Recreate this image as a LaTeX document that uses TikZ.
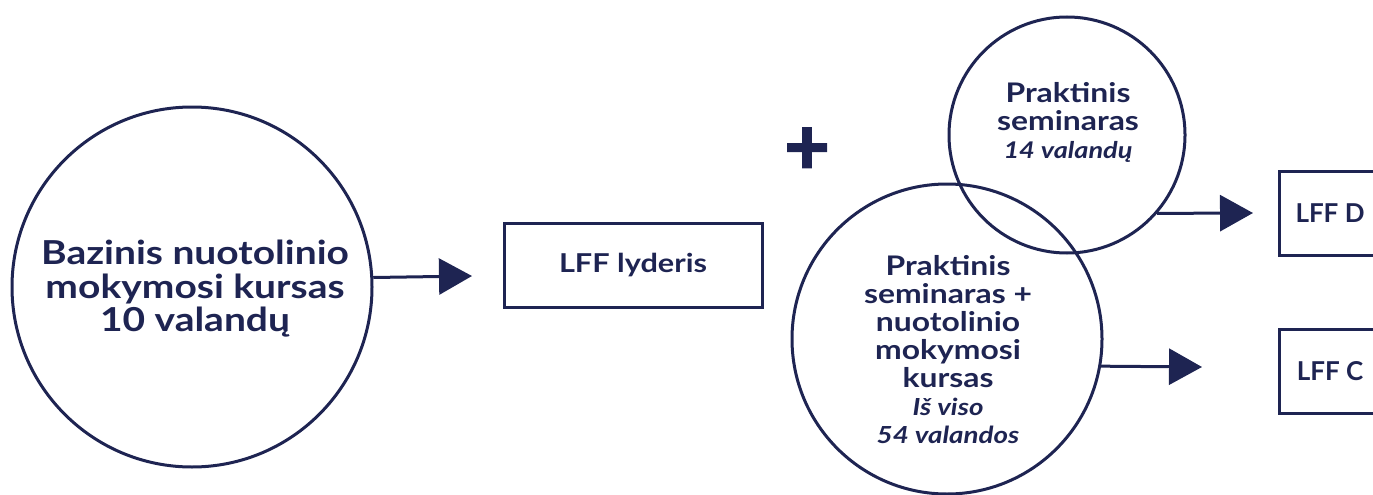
\documentclass[tikz,border=0pt]{standalone}
\usepackage{fontspec}
\setmainfont{Lato}
\newfontfamily\widefont[FakeStretch=1.18]{Lato}
\newfontfamily\plusfont[FakeBold=2.5]{Lato}
\usepackage{xcolor}
\usetikzlibrary{arrows.meta,positioning}
\definecolor{lffnavy}{HTML}{1E2452}

\begin{document}
\begin{tikzpicture}[
    x=1pt, y=-1pt,
    course/.style={circle, draw=lffnavy, line width=3pt, inner sep=0pt},
    caption/.style={text=lffnavy, align=center, inner sep=0pt},
    level/.style={rectangle, draw=lffnavy, line width=3pt, minimum height=84pt, inner sep=0pt, text=lffnavy, font=\bfseries\fontsize{26}{28}\selectfont},
    line/.style={draw=lffnavy, line width=3pt},
    >={Triangle[length=33pt,width=36pt]}
]
\useasboundingbox (0,0) rectangle (1373,495);

% Courses
\node[course, minimum size=360pt] (basic) at (192,287) {};
\node[caption, font=\widefont\bfseries\fontsize{33}{33.5}\selectfont] (basictext) at (195,289) {Bazinis nuotolinio\\mokymosi kursas\\10 valandų};
\node[course, minimum size=236pt] (seminar) at (1067,135) {};
\node[caption, font=\widefont\bfseries\fontsize{27}{28}\selectfont] (seminartext) at (1068,122) {Praktinis\\seminaras\\{\itshape\fontsize{23}{28}\selectfont 14 valandų}};
\node[course, minimum size=310pt] (mixed) at (947,339) {};
\node[caption, font=\widefont\bfseries\fontsize{27}{28}\selectfont] (mixedtext) at (948,350) {Praktinis\\seminaras +\\nuotolinio\\mokymosi\\kursas\\{\itshape\fontsize{23.5}{28}\selectfont Iš viso}\\{\itshape\fontsize{23.5}{28}\selectfont 54 valandos}};
\node[text=lffnavy, font=\plusfont\bfseries\fontsize{78}{78}\selectfont] (plus) at (807,151) {+};

% Levels
\node[level, minimum width=258pt, font=\widefont\bfseries\fontsize{26}{28}\selectfont] (leader) at (633,265) {LFF lyderis};
\node[level, minimum width=102pt] (levelD) at (1330,213) {LFF D};
\node[level, minimum width=102pt] (levelC) at (1330,371.5) {LFF C};

% Arrows
\coordinate (basictip) at (472,276);
\coordinate (seminartip) at (1253,213);
\coordinate (mixedtip) at (1202,367);
\path[line,->] (basic.3.5) -- (basictip);
\path[line,->] (seminar.-41.6) -- (seminartip);
\path[line,->] (mixed.-10.4) -- (mixedtip);

\end{tikzpicture}
\end{document}
